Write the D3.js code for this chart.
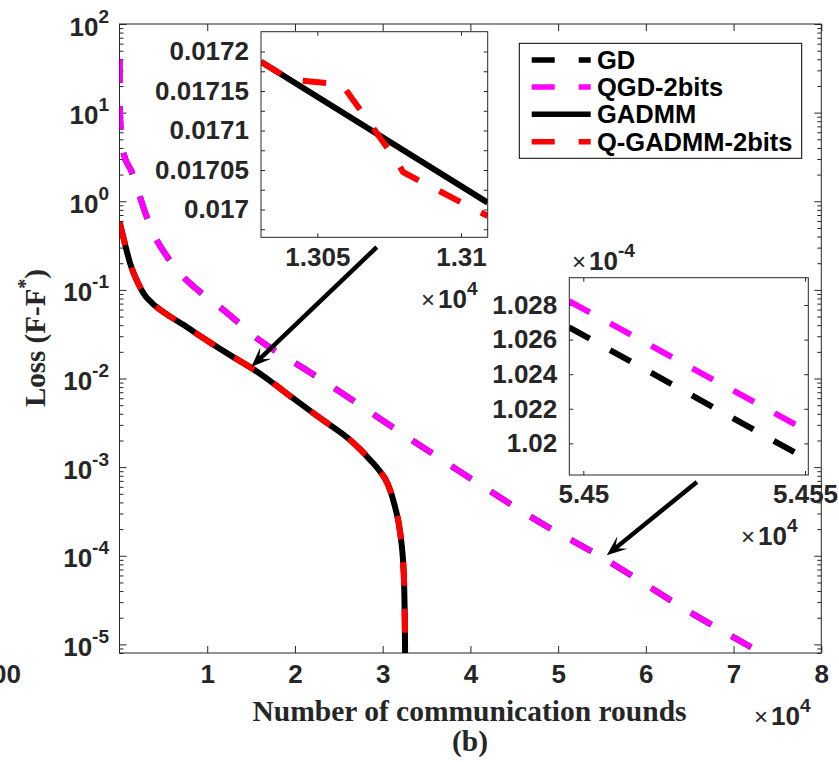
<!DOCTYPE html>
<html><head><meta charset="utf-8">
<script src="https://cdn.jsdelivr.net/npm/d3@7/dist/d3.min.js"></script>
<style>body{margin:0;background:#fff}svg{display:block}</style>
</head><body>
<script>
// ---------------- DATA ----------------
// main plot (x: communication rounds, y: loss F-F*)
const gadmmRounds = [0, 510, 1200, 2000, 2790, 3710, 5190, 7240, 9180, 13070, 15110, 17160, 19780, 23000, 26300, 28600, 29600, 30600, 31400, 32000, 32400, 32550, 32600];
const gadmmLoss   = [0.582, 0.365, 0.201, 0.1257, 0.0897, 0.071, 0.0547, 0.0406, 0.0302, 0.0172, 0.0130, 0.0094, 0.0060, 0.0035, 0.00202, 0.0012, 9.2e-4, 6.4e-4, 3.6e-4, 1.8e-4, 6.4e-5, 1.0e-5, 1e-7];
const qgadmmLoss  = [0.582, 0.365, 0.201, 0.1257, 0.0897, 0.071, 0.0547, 0.0406, 0.0302, 0.0172, 0.0130, 0.0094, 0.0060, 0.0035, 0.00202, 0.0012, 9.2e-4, 6.4e-4, 3.6e-4, 1.8e-4, 6.4e-5, 1.0e-5, 1e-7];
const qgdRounds = [0, 80, 400, 1390, 3100, 4050, 5400, 7090, 9180, 11270, 13360, 15450, 17900, 19800, 34300, 39800, 48700, 54550, 65400, 72000];
const qgdLoss   = [40, 8, 3.7, 2.15, 0.67, 0.4, 0.24, 0.147, 0.095, 0.066, 0.0445, 0.0295, 0.02, 0.0154, 0.00175, 7.7e-4, 2.15e-4, 1.0207e-4, 2.2e-5, 9.3e-6];
const gdLoss    = [39.94, 7.99, 3.695, 2.147, 0.669, 0.3994, 0.2396, 0.1468, 0.09486, 0.0659, 0.04443, 0.02946, 0.01997, 0.01538, 0.001747, 7.69e-4, 2.147e-4, 1.0191e-4, 2.197e-5, 9.29e-6];

// zoom inset A (around 1.305e4 rounds)
const zoomARounds      = [13030.4, 13109.3];
const zoomAGadmm       = [0.0171871, 0.0170086];
const zoomAQRounds     = [13030.4, 13040.5, 13058.6, 13077.4, 13079.8, 13085.7, 13109.3];
const zoomAQgadmm      = [0.0171871, 0.0171646, 0.0171582, 0.0170627, 0.0170475, 0.0170361, 0.0169918];
// zoom inset B (around 5.45e4 rounds)
const zoomBRounds = [54496.8, 54550.7];
const zoomBQgd    = [1.02823e-4, 1.02069e-4];
const zoomBGd     = [1.02671e-4, 1.01905e-4];

// ticks
const xTickValues = [10000, 20000, 30000, 40000, 50000, 60000, 70000, 80000];
const xTickLabels = ["1", "2", "3", "4", "5", "6", "7", "8"];
const yTickExponents = [-5, -4, -3, -2, -1, 0, 1, 2];
const zoomAXTicks = [13050, 13100];
const zoomAXLabels = ["1.305", "1.31"];
const zoomAYTicks = [0.017, 0.01705, 0.0171, 0.01715, 0.0172];
const zoomAYLabels = ["0.017", "0.01705", "0.0171", "0.01715", "0.0172"];
const zoomAYMinor = [0.016975, 0.017025, 0.017075, 0.017125, 0.017175];
const zoomBXTicks = [54500, 54550];
const zoomBXLabels = ["5.45", "5.455"];
const zoomBYTicks = [1.020e-4, 1.022e-4, 1.024e-4, 1.026e-4, 1.028e-4];
const zoomBYLabels = ["1.02", "1.022", "1.024", "1.026", "1.028"];

const seriesNames  = ["GD", "QGD-2bits", "GADMM", "Q-GADMM-2bits"];
const seriesColors = ["#000000", "#ff00ff", "#000000", "#ff0000"];
const seriesDashed = [true, true, false, true];

// arrows: [fromRounds, fromLoss, toRounds, toLoss]
const arrowA = [29330, 0.304, 15030, 0.01355];
const arrowB = [65820, 6.82e-4, 55550, 1.016e-4];

// ---------------- DRAW ----------------
const W = 839, H = 762;
const AX = "#262626";
const sans = "'Liberation Sans', Arial, Helvetica, sans-serif";
const serif = "'Liberation Serif', 'Times New Roman', serif";
const DASH = "23.5,23.3";
const LW = 6;

const svg = d3.select("body").append("svg").attr("width", W).attr("height", H)
  .style("font-family", sans);

const M = {l: 119.5, r: 821.3, t: 24, b: 653};
const x = d3.scaleLinear().domain([0, 80000]).range([M.l, M.r]);
const y = d3.scaleLog().domain([8e-6, 100]).range([M.b, M.t]);

svg.append("clipPath").attr("id", "clipMain").append("rect")
  .attr("x", M.l).attr("y", M.t).attr("width", M.r - M.l).attr("height", M.b - M.t);

function styleAxis(g) {
  g.select(".domain").remove();
  g.selectAll(".tick line").attr("stroke", AX).attr("stroke-width", 1);
  g.selectAll(".tick text").attr("fill", AX).attr("font-weight", "bold")
    .attr("font-size", 26).attr("font-family", sans);
}

// minor log ticks
const yMinor = [];
for (let k = -6; k <= 1; k++) for (let m = 2; m <= 9; m++) {
  const v = m * Math.pow(10, k);
  if (v >= 8e-6 && v <= 100) yMinor.push(v);
}
const yMajor = yTickExponents.map(e => Math.pow(10, e));

svg.append("g").attr("transform", `translate(0,${M.b})`)
  .call(d3.axisBottom(x).tickValues(xTickValues).tickSize(-7).tickPadding(12)
    .tickFormat((d, i) => xTickLabels[i])).call(styleAxis);
svg.append("g").attr("transform", `translate(0,${M.t})`)
  .call(d3.axisTop(x).tickValues(xTickValues).tickSize(-7).tickFormat("")).call(styleAxis);
svg.append("g").attr("transform", `translate(${M.l},0)`)
  .call(d3.axisLeft(y).tickValues(yMajor).tickSize(-7).tickFormat("")).call(styleAxis);
svg.append("g").attr("transform", `translate(${M.l},0)`)
  .call(d3.axisLeft(y).tickValues(yMinor).tickSize(-4).tickFormat("")).call(styleAxis);
svg.append("g").attr("transform", `translate(${M.r},0)`)
  .call(d3.axisRight(y).tickValues(yMajor).tickSize(-7).tickFormat("")).call(styleAxis);
svg.append("g").attr("transform", `translate(${M.r},0)`)
  .call(d3.axisRight(y).tickValues(yMinor).tickSize(-4).tickFormat("")).call(styleAxis);

svg.append("rect").attr("x", M.l).attr("y", M.t).attr("width", M.r - M.l).attr("height", M.b - M.t)
  .attr("fill", "none").attr("stroke", AX).attr("stroke-width", 1);

// y tick labels 10^k
function powLabel(g, px, py, base, exp, anchor, size, supSize, supDy) {
  const t = g.append("text").attr("x", px).attr("y", py).attr("text-anchor", anchor)
    .attr("fill", AX).attr("font-weight", "bold").attr("font-size", size).attr("font-family", sans);
  t.append("tspan").text(base);
  t.append("tspan").attr("font-size", supSize).attr("dy", supDy).text(exp);
  return t;
}
yTickExponents.forEach(e => {
  powLabel(svg, 109, y(Math.pow(10, e)) + 11.5, "10", String(e), "end", 26, 19, -13);
});

// clipped neighbour label
svg.append("text").attr("x", 21).attr("y", 683).attr("text-anchor", "end")
  .attr("font-weight", "bold").attr("font-size", 26).attr("fill", AX).text("00");

// x10^4 multiplier helper
function multLabel(px, py, exp) {
  const t = svg.append("text").attr("x", px).attr("y", py).attr("fill", AX).attr("font-family", sans);
  t.append("tspan").attr("font-size", 24).attr("font-weight", "normal").text("×");
  t.append("tspan").attr("dx", 3).attr("font-size", 26).attr("font-weight", "bold").text("10");
  t.append("tspan").attr("font-size", 19).attr("font-weight", "bold").attr("dy", -13).text(exp);
}
multLabel(754, 725, "4");

// axis titles
svg.append("text").attr("x", 469.5).attr("y", 721).attr("text-anchor", "middle")
  .attr("font-family", serif).attr("font-weight", "bold").attr("font-size", 29.5).attr("fill", AX)
  .text("Number of communication rounds");
svg.append("text").attr("x", 470).attr("y", 751).attr("text-anchor", "middle")
  .attr("font-family", serif).attr("font-weight", "bold").attr("font-size", 29.5).attr("fill", AX)
  .text("(b)");
const yl = svg.append("text").attr("transform", "translate(45,338) rotate(-90)").attr("text-anchor", "middle")
  .attr("font-family", serif).attr("font-weight", "bold").attr("font-size", 29).attr("fill", AX);
yl.append("tspan").text("Loss (F-F");
yl.append("tspan").attr("font-size", 20).attr("dy", -13).text("*");
yl.append("tspan").attr("dy", 13).text(")");

// main lines
const mainLine = d3.line().x(d => x(d[0])).y(d => y(d[1])).curve(d3.curveMonotoneX);
const gMain = svg.append("g").attr("clip-path", "url(#clipMain)");
function drawSeries(g, gen, xs, ys, idx) {
  g.append("path").datum(xs.map((v, i) => [v, ys[i]])).attr("d", gen)
    .attr("fill", "none").attr("stroke", seriesColors[idx]).attr("stroke-width", LW)
    .attr("stroke-linecap", "butt").attr("stroke-linejoin", "round")
    .attr("stroke-dasharray", seriesDashed[idx] ? DASH : null);
}
drawSeries(gMain, mainLine, qgdRounds, gdLoss, 0);
drawSeries(gMain, mainLine, qgdRounds, qgdLoss, 1);
drawSeries(gMain, mainLine, gadmmRounds, gadmmLoss, 2);
drawSeries(gMain, mainLine, gadmmRounds, qgadmmLoss, 3);

// ---------- insets ----------
function inset(id, box, xDom, yDom) {
  const g = svg.append("g");
  const sx = d3.scaleLinear().domain(xDom).range([box.l, box.r]);
  const sy = d3.scaleLinear().domain(yDom).range([box.b, box.t]);
  g.append("rect").attr("x", box.l).attr("y", box.t).attr("width", box.r - box.l).attr("height", box.b - box.t)
    .attr("fill", "#fff");
  svg.append("clipPath").attr("id", id).append("rect")
    .attr("x", box.l).attr("y", box.t).attr("width", box.r - box.l).attr("height", box.b - box.t);
  return {g, sx, sy, box};
}
function insetAxes(ins, xt, xl, yt, yl2, yMin) {
  const {g, sx, sy, box} = ins;
  g.append("g").attr("transform", `translate(0,${box.b})`)
    .call(d3.axisBottom(sx).tickValues(xt).tickSize(-4).tickPadding(10).tickFormat((d, i) => xl[i])).call(styleAxis);
  g.append("g").attr("transform", `translate(0,${box.t})`)
    .call(d3.axisTop(sx).tickValues(xt).tickSize(-4).tickFormat("")).call(styleAxis);
  g.append("g").attr("transform", `translate(${box.l},0)`)
    .call(d3.axisLeft(sy).tickValues(yt).tickSize(-4).tickPadding(12).tickFormat((d, i) => yl2[i])).call(styleAxis);
  g.append("g").attr("transform", `translate(${box.r},0)`)
    .call(d3.axisRight(sy).tickValues(yt).tickSize(-4).tickFormat("")).call(styleAxis);
  if (yMin) {
    g.append("g").attr("transform", `translate(${box.l},0)`)
      .call(d3.axisLeft(sy).tickValues(yMin).tickSize(-4).tickFormat("")).call(styleAxis);
    g.append("g").attr("transform", `translate(${box.r},0)`)
      .call(d3.axisRight(sy).tickValues(yMin).tickSize(-4).tickFormat("")).call(styleAxis);
  }
  g.selectAll(".tick text").attr("font-size", 26);
}

// inset A
const insA = inset("clipA", {l: 261, r: 487.7, t: 31.7, b: 237.3}, [13030.4, 13109.3], [0.0169648, 0.0172251]);
insetAxes(insA, zoomAXTicks, zoomAXLabels, zoomAYTicks, zoomAYLabels, zoomAYMinor);
const lineA = d3.line().x(d => insA.sx(d[0])).y(d => insA.sy(d[1]));
const gA = insA.g.append("g").attr("clip-path", "url(#clipA)");
drawSeries(gA, lineA, zoomARounds, zoomAGadmm, 2);
drawSeries(gA, lineA, zoomAQRounds, zoomAQgadmm, 3);
insA.g.append("rect").attr("x", 261).attr("y", 31.7).attr("width", 226.7).attr("height", 205.6)
  .attr("fill", "none").attr("stroke", AX).attr("stroke-width", 1);
multLabel(421, 308, "4");

// inset B
const insB = inset("clipB", {l: 569.3, r: 808.3, t: 277.7, b: 475}, [54496.84, 54550.74], [1.01817e-4, 1.02958e-4]);
insetAxes(insB, zoomBXTicks, zoomBXLabels, zoomBYTicks, zoomBYLabels, null);
const lineB = d3.line().x(d => insB.sx(d[0])).y(d => insB.sy(d[1]));
const gB = insB.g.append("g").attr("clip-path", "url(#clipB)");
drawSeries(gB, lineB, zoomBRounds, zoomBGd, 0);
drawSeries(gB, lineB, zoomBRounds, zoomBQgd, 1);
insB.g.append("rect").attr("x", 569.3).attr("y", 277.7).attr("width", 239).attr("height", 197.3)
  .attr("fill", "none").attr("stroke", AX).attr("stroke-width", 1);
multLabel(741, 545, "4");
multLabel(572, 270, "-4");

// ---------- arrows ----------
function arrow(a) {
  const x0 = x(a[0]), y0 = y(a[1]), x1 = x(a[2]), y1 = y(a[3]);
  const dx = x1 - x0, dy = y1 - y0, L = Math.hypot(dx, dy);
  const ux = dx / L, uy = dy / L, nx = -uy, ny = ux;
  const hl = 20, hw = 8;
  svg.append("line").attr("x1", x0).attr("y1", y0).attr("x2", x1 - ux * 8).attr("y2", y1 - uy * 8)
    .attr("stroke", "#000").attr("stroke-width", 4.5);
  const p = [[x1, y1], [x1 - ux * hl + nx * hw, y1 - uy * hl + ny * hw],
             [x1 - ux * hl * 0.55, y1 - uy * hl * 0.55], [x1 - ux * hl - nx * hw, y1 - uy * hl - ny * hw]];
  svg.append("path").attr("d", "M" + p.map(q => q.join(",")).join("L") + "Z").attr("fill", "#000");
}
arrow(arrowA);
arrow(arrowB);

// ---------- legend ----------
const lg = svg.append("g");
lg.append("rect").attr("x", 519.3).attr("y", 43.3).attr("width", 282.4).attr("height", 115)
  .attr("fill", "#fff").attr("stroke", "#000").attr("stroke-width", 1);
const legY = [60, 87, 114.3, 141.7];
seriesNames.forEach((n, i) => {
  lg.append("line").attr("x1", 531.7).attr("x2", 590.7).attr("y1", legY[i]).attr("y2", legY[i])
    .attr("stroke", seriesColors[i]).attr("stroke-width", 5.5)
    .attr("stroke-dasharray", seriesDashed[i] ? "23,24" : null);
  lg.append("text").attr("x", 597).attr("y", legY[i] + 9).attr("font-weight", "bold")
    .attr("font-size", 25.5).attr("fill", "#000").text(n);
});
</script>
</body></html>
